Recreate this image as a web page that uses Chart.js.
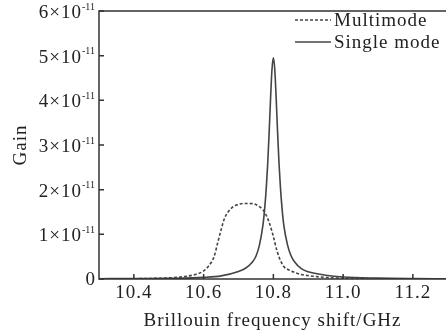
<!DOCTYPE html>
<html>
<head>
<meta charset="utf-8">
<script src="https://cdn.jsdelivr.net/npm/chart.js@4/dist/chart.umd.min.js"></script>
<style>
  html, body { margin: 0; padding: 0; background: #fff; }
  #wrap { width: 446px; height: 331px; }
</style>
</head>
<body>
<div id="wrap"><canvas id="gainChart" width="446" height="331"></canvas></div>
<script>
// gain values are in units of 1e-11
const multiFreq = [10.30, 10.40, 10.45, 10.50, 10.55, 10.58, 10.60, 10.615, 10.63, 10.64, 10.65, 10.66, 10.67, 10.685, 10.70, 10.715, 10.73, 10.745, 10.76, 10.77, 10.78, 10.79, 10.80, 10.81, 10.82, 10.83, 10.845, 10.86, 10.88, 10.90, 10.95, 11.00, 11.10, 11.20, 11.30];
const multiGain = [0.002, 0.006, 0.012, 0.025, 0.06, 0.11, 0.18, 0.30, 0.50, 0.80, 1.10, 1.36, 1.50, 1.62, 1.67, 1.69, 1.69, 1.68, 1.62, 1.55, 1.42, 1.22, 0.95, 0.64, 0.42, 0.28, 0.20, 0.15, 0.10, 0.075, 0.035, 0.015, 0.005, 0.002, 0.001];

const singleFreq = [10.30, 10.40, 10.50, 10.60, 10.65, 10.70, 10.72, 10.74, 10.75, 10.76, 10.77, 10.775, 10.78, 10.784, 10.788, 10.792, 10.796, 10.80, 10.804, 10.808, 10.812, 10.816, 10.82, 10.825, 10.83, 10.84, 10.85, 10.86, 10.88, 10.90, 10.95, 11.00, 11.10, 11.20, 11.30];
const singleGain = [0.006, 0.010, 0.016, 0.036, 0.07, 0.17, 0.24, 0.38, 0.51, 0.76, 1.20, 1.57, 2.08, 2.62, 3.30, 4.05, 4.69, 4.95, 4.69, 4.05, 3.30, 2.62, 2.08, 1.57, 1.20, 0.78, 0.53, 0.39, 0.23, 0.16, 0.085, 0.045, 0.02, 0.01, 0.006];

const seriesNames = ['Multimode', 'Single mode'];
const xTicks = [10.4, 10.6, 10.8, 11.0, 11.2];
const yTicks = [0, 1, 2, 3, 4, 5, 6];

const ink = '#222';
const lineInk = '#444';
const serif = '"Liberation Serif", "Times New Roman", serif';

function toPoints(xs, ys) {
    return xs.map((x, i) => ({ x: x, y: ys[i] }));
}

// axes frame, inward ticks, y labels with exponent and the legend
const paperAxes = {
    id: 'paperAxes',
    beforeDraw(chart) {
        chart.ctx.letterSpacing = '1px';
    },
    afterDraw(chart) {
        const { ctx, chartArea: a, scales: { x, y } } = chart;
        ctx.save();
        ctx.strokeStyle = '#333';
        ctx.lineWidth = 1.5;
        ctx.beginPath();
        ctx.moveTo(a.right, a.top);
        ctx.lineTo(a.left, a.top);
        ctx.lineTo(a.left, a.bottom);
        ctx.lineTo(a.right, a.bottom);
        ctx.stroke();

        ctx.beginPath();
        x.ticks.forEach(t => {
            const px = x.getPixelForValue(t.value);
            ctx.moveTo(px, a.bottom);
            ctx.lineTo(px, a.bottom - 5);
        });
        y.ticks.forEach(t => {
            const py = y.getPixelForValue(t.value);
            ctx.moveTo(a.left, py);
            ctx.lineTo(a.left + 5, py);
        });
        ctx.stroke();

        // y tick labels: m×10^-11
        ctx.fillStyle = ink;
        ctx.textBaseline = 'middle';
        ctx.textAlign = 'right';
        const right = a.left - 4;
        y.ticks.forEach(t => {
            const py = y.getPixelForValue(t.value);
            if (t.value === 0) {
                ctx.letterSpacing = '0px';
                ctx.font = '19px ' + serif;
                ctx.fillText('0', right, py + 1);
                return;
            }
            ctx.letterSpacing = '0px';
            ctx.font = '10px ' + serif;
            const exp = '-11';
            const ew = ctx.measureText(exp).width;
            ctx.fillText(exp, right, py - 4);
            ctx.letterSpacing = '1px';
            ctx.font = '19px ' + serif;
            ctx.fillText(t.value + '\u00d710', right - ew, py + 2);
        });

        // legend
        ctx.letterSpacing = '1px';
        chart.data.datasets.forEach((ds, i) => {
            const ly = 20 + i * 22;
            ctx.strokeStyle = ds.borderColor;
            ctx.lineWidth = 1.5;
            ctx.setLineDash(ds.borderDash || []);
            ctx.beginPath();
            ctx.moveTo(295, ly);
            ctx.lineTo(331, ly);
            ctx.stroke();
            ctx.setLineDash([]);
            ctx.font = '19px ' + serif;
            ctx.textAlign = 'left';
            ctx.fillStyle = ink;
            ctx.fillText(ds.label, 334, ly + 1);
        });
        ctx.restore();
    }
};

new Chart(document.getElementById('gainChart'), {
    type: 'line',
    data: {
        datasets: [
            {
                label: seriesNames[0],
                data: toPoints(multiFreq, multiGain),
                borderColor: lineInk,
                borderWidth: 1.6,
                borderDash: [3, 2],
                pointRadius: 0,
                cubicInterpolationMode: 'monotone',
                fill: false
            },
            {
                label: seriesNames[1],
                data: toPoints(singleFreq, singleGain),
                borderColor: lineInk,
                borderWidth: 1.6,
                pointRadius: 0,
                cubicInterpolationMode: 'monotone',
                fill: false
            }
        ]
    },
    options: {
        responsive: false,
        animation: false,
        devicePixelRatio: 1,
        layout: { padding: { top: 11, right: 0, left: 0, bottom: 0 } },
        plugins: {
            legend: { display: false },
            tooltip: { enabled: false }
        },
        scales: {
            x: {
                type: 'linear',
                min: 10.3,
                max: 11.295,
                afterBuildTicks: s => { s.ticks = xTicks.map(v => ({ value: v })); },
                afterFit: s => { s.height = 52; },
                grid: { display: false, drawTicks: false },
                border: { display: false },
                ticks: {
                    color: ink,
                    padding: 3,
                    maxRotation: 0,
                    font: { family: serif, size: 19 },
                    callback: v => v.toFixed(1)
                },
                title: {
                    display: true,
                    text: 'Brillouin frequency shift/GHz',
                    color: ink,
                    font: { family: serif, size: 19, lineHeight: 1 },
                    padding: { top: 0, bottom: 0 }
                }
            },
            y: {
                min: 0,
                max: 6,
                afterBuildTicks: s => { s.ticks = yTicks.map(v => ({ value: v })); },
                afterFit: s => { s.width = 99; },
                grid: { display: false, drawTicks: false },
                border: { display: false },
                ticks: { display: false },
                title: {
                    display: true,
                    text: 'Gain',
                    color: ink,
                    font: { family: serif, size: 19, lineHeight: 1 },
                    padding: { top: 12, bottom: 0 }
                }
            }
        }
    },
    plugins: [paperAxes]
});
</script>
</body>
</html>
